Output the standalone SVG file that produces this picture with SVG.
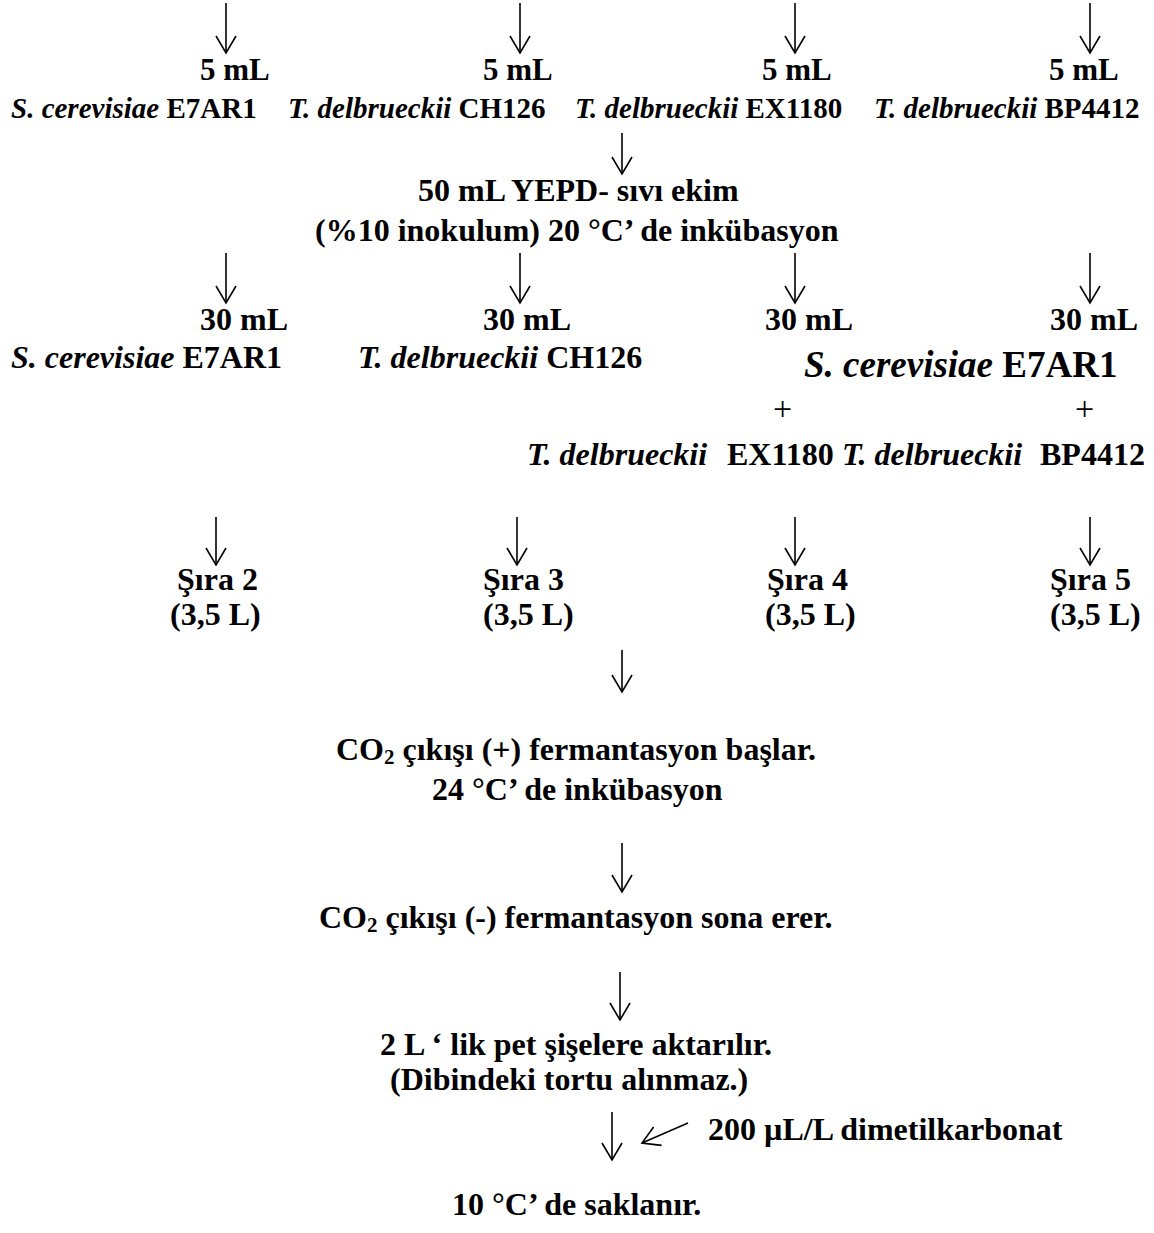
<svg xmlns="http://www.w3.org/2000/svg" width="1154" height="1233" viewBox="0 0 1154 1233">
<style>
text{font-family:"Liberation Serif","Times New Roman",serif;font-weight:bold;fill:#000;font-size:32px}
.i{font-style:italic}
.s29{font-size:29px}
.s31{font-size:31px}
.s37{font-size:37px}
.plus{font-weight:normal;font-size:34px}
.arr{stroke:#000;stroke-width:1.6;fill:none}
</style>
<defs>
<marker id="v" markerUnits="userSpaceOnUse" markerWidth="24" markerHeight="24" refX="18" refY="10" orient="auto" overflow="visible">
<path d="M1,0 L18,10 L1,20" fill="none" stroke="#000" stroke-width="1.6"/>
</marker>
</defs>
<rect width="1154" height="1233" fill="#fff"/>
<g id="connectors">
<path class="arr" d="M226,3 V53" marker-end="url(#v)"/>
<path class="arr" d="M520,3 V53" marker-end="url(#v)"/>
<path class="arr" d="M795,3 V53" marker-end="url(#v)"/>
<path class="arr" d="M1090,3 V53" marker-end="url(#v)"/>
<path class="arr" d="M622,133 V174" marker-end="url(#v)"/>
<path class="arr" d="M226,253 V303" marker-end="url(#v)"/>
<path class="arr" d="M520,253 V303" marker-end="url(#v)"/>
<path class="arr" d="M795,253 V303" marker-end="url(#v)"/>
<path class="arr" d="M1090,253 V303" marker-end="url(#v)"/>
<path class="arr" d="M216,517 V565" marker-end="url(#v)"/>
<path class="arr" d="M517,517 V565" marker-end="url(#v)"/>
<path class="arr" d="M795,517 V565" marker-end="url(#v)"/>
<path class="arr" d="M1090,517 V565" marker-end="url(#v)"/>
<path class="arr" d="M622,650 V692" marker-end="url(#v)"/>
<path class="arr" d="M622,843 V892" marker-end="url(#v)"/>
<path class="arr" d="M620,972 V1020" marker-end="url(#v)"/>
<path class="arr" d="M612,1112 V1160" marker-end="url(#v)"/>
<path class="arr" d="M688,1123 L642,1143" marker-end="url(#v)"/>
</g>
<g id="vol5-1"><text class="s31" x="200" y="80">5 mL</text></g>
<g id="vol5-2"><text class="s31" x="483" y="80">5 mL</text></g>
<g id="vol5-3"><text class="s31" x="762" y="80">5 mL</text></g>
<g id="vol5-4"><text class="s31" x="1049" y="80">5 mL</text></g>
<g id="strain1-1"><text class="s29" x="11" y="118"><tspan class="i">S. cerevisiae</tspan> E7AR1</text></g>
<g id="strain1-2"><text class="s29" x="288" y="118"><tspan class="i">T. delbrueckii</tspan> CH126</text></g>
<g id="strain1-3"><text class="s29" x="575" y="118"><tspan class="i">T. delbrueckii</tspan> EX1180</text></g>
<g id="strain1-4"><text class="s29" x="874" y="118"><tspan class="i">T. delbrueckii</tspan> BP4412</text></g>
<g id="yepd">
<text x="418" y="201">50 mL YEPD- sıvı ekim</text>
<text x="315" y="241">(%10 inokulum) 20 °C’ de inkübasyon</text>
</g>
<g id="vol30-1"><text x="200" y="330">30 mL</text></g>
<g id="vol30-2"><text x="483" y="330">30 mL</text></g>
<g id="vol30-3"><text x="765" y="330">30 mL</text></g>
<g id="vol30-4"><text x="1050" y="330">30 mL</text></g>
<g id="strain2-1"><text x="11" y="368"><tspan class="i">S. cerevisiae</tspan> E7AR1</text></g>
<g id="strain2-2"><text x="358" y="368"><tspan class="i">T. delbrueckii</tspan> CH126</text></g>
<g id="strain2-mix">
<text class="s37" x="804" y="377"><tspan class="i">S. cerevisiae</tspan> E7AR1</text>
<text class="plus" x="773" y="420">+</text>
<text class="plus" x="1075" y="420">+</text>
<text y="465"><tspan class="i" x="527">T. delbrueckii</tspan><tspan x="727">EX1180</tspan><tspan class="i" x="842">T. delbrueckii</tspan><tspan x="1040">BP4412</tspan></text>
</g>
<g id="sira2"><text x="177" y="590">Şıra 2</text><text x="170" y="625">(3,5 L)</text></g>
<g id="sira3"><text x="483" y="590">Şıra 3</text><text x="483" y="625">(3,5 L)</text></g>
<g id="sira4"><text x="767" y="590">Şıra 4</text><text x="765" y="625">(3,5 L)</text></g>
<g id="sira5"><text x="1050" y="590">Şıra 5</text><text x="1050" y="625">(3,5 L)</text></g>
<g id="ferm-start">
<text x="336" y="760">CO<tspan font-size="21" dy="4">2</tspan><tspan dy="-4"> çıkışı (+) fermantasyon başlar.</tspan></text>
<text x="432" y="800">24 °C’ de inkübasyon</text>
</g>
<g id="ferm-end">
<text x="319" y="928">CO<tspan font-size="21" dy="4">2</tspan><tspan dy="-4"> çıkışı (-) fermantasyon sona erer.</tspan></text>
</g>
<g id="bottle">
<text x="380" y="1055">2 L ‘ lik pet şişelere aktarılır.</text>
<text x="390" y="1090">(Dibindeki tortu alınmaz.)</text>
</g>
<g id="dmdc"><text x="708" y="1140">200 µL/L dimetilkarbonat</text></g>
<g id="store"><text x="452" y="1215">10 °C’ de saklanır.</text></g>
</svg>
